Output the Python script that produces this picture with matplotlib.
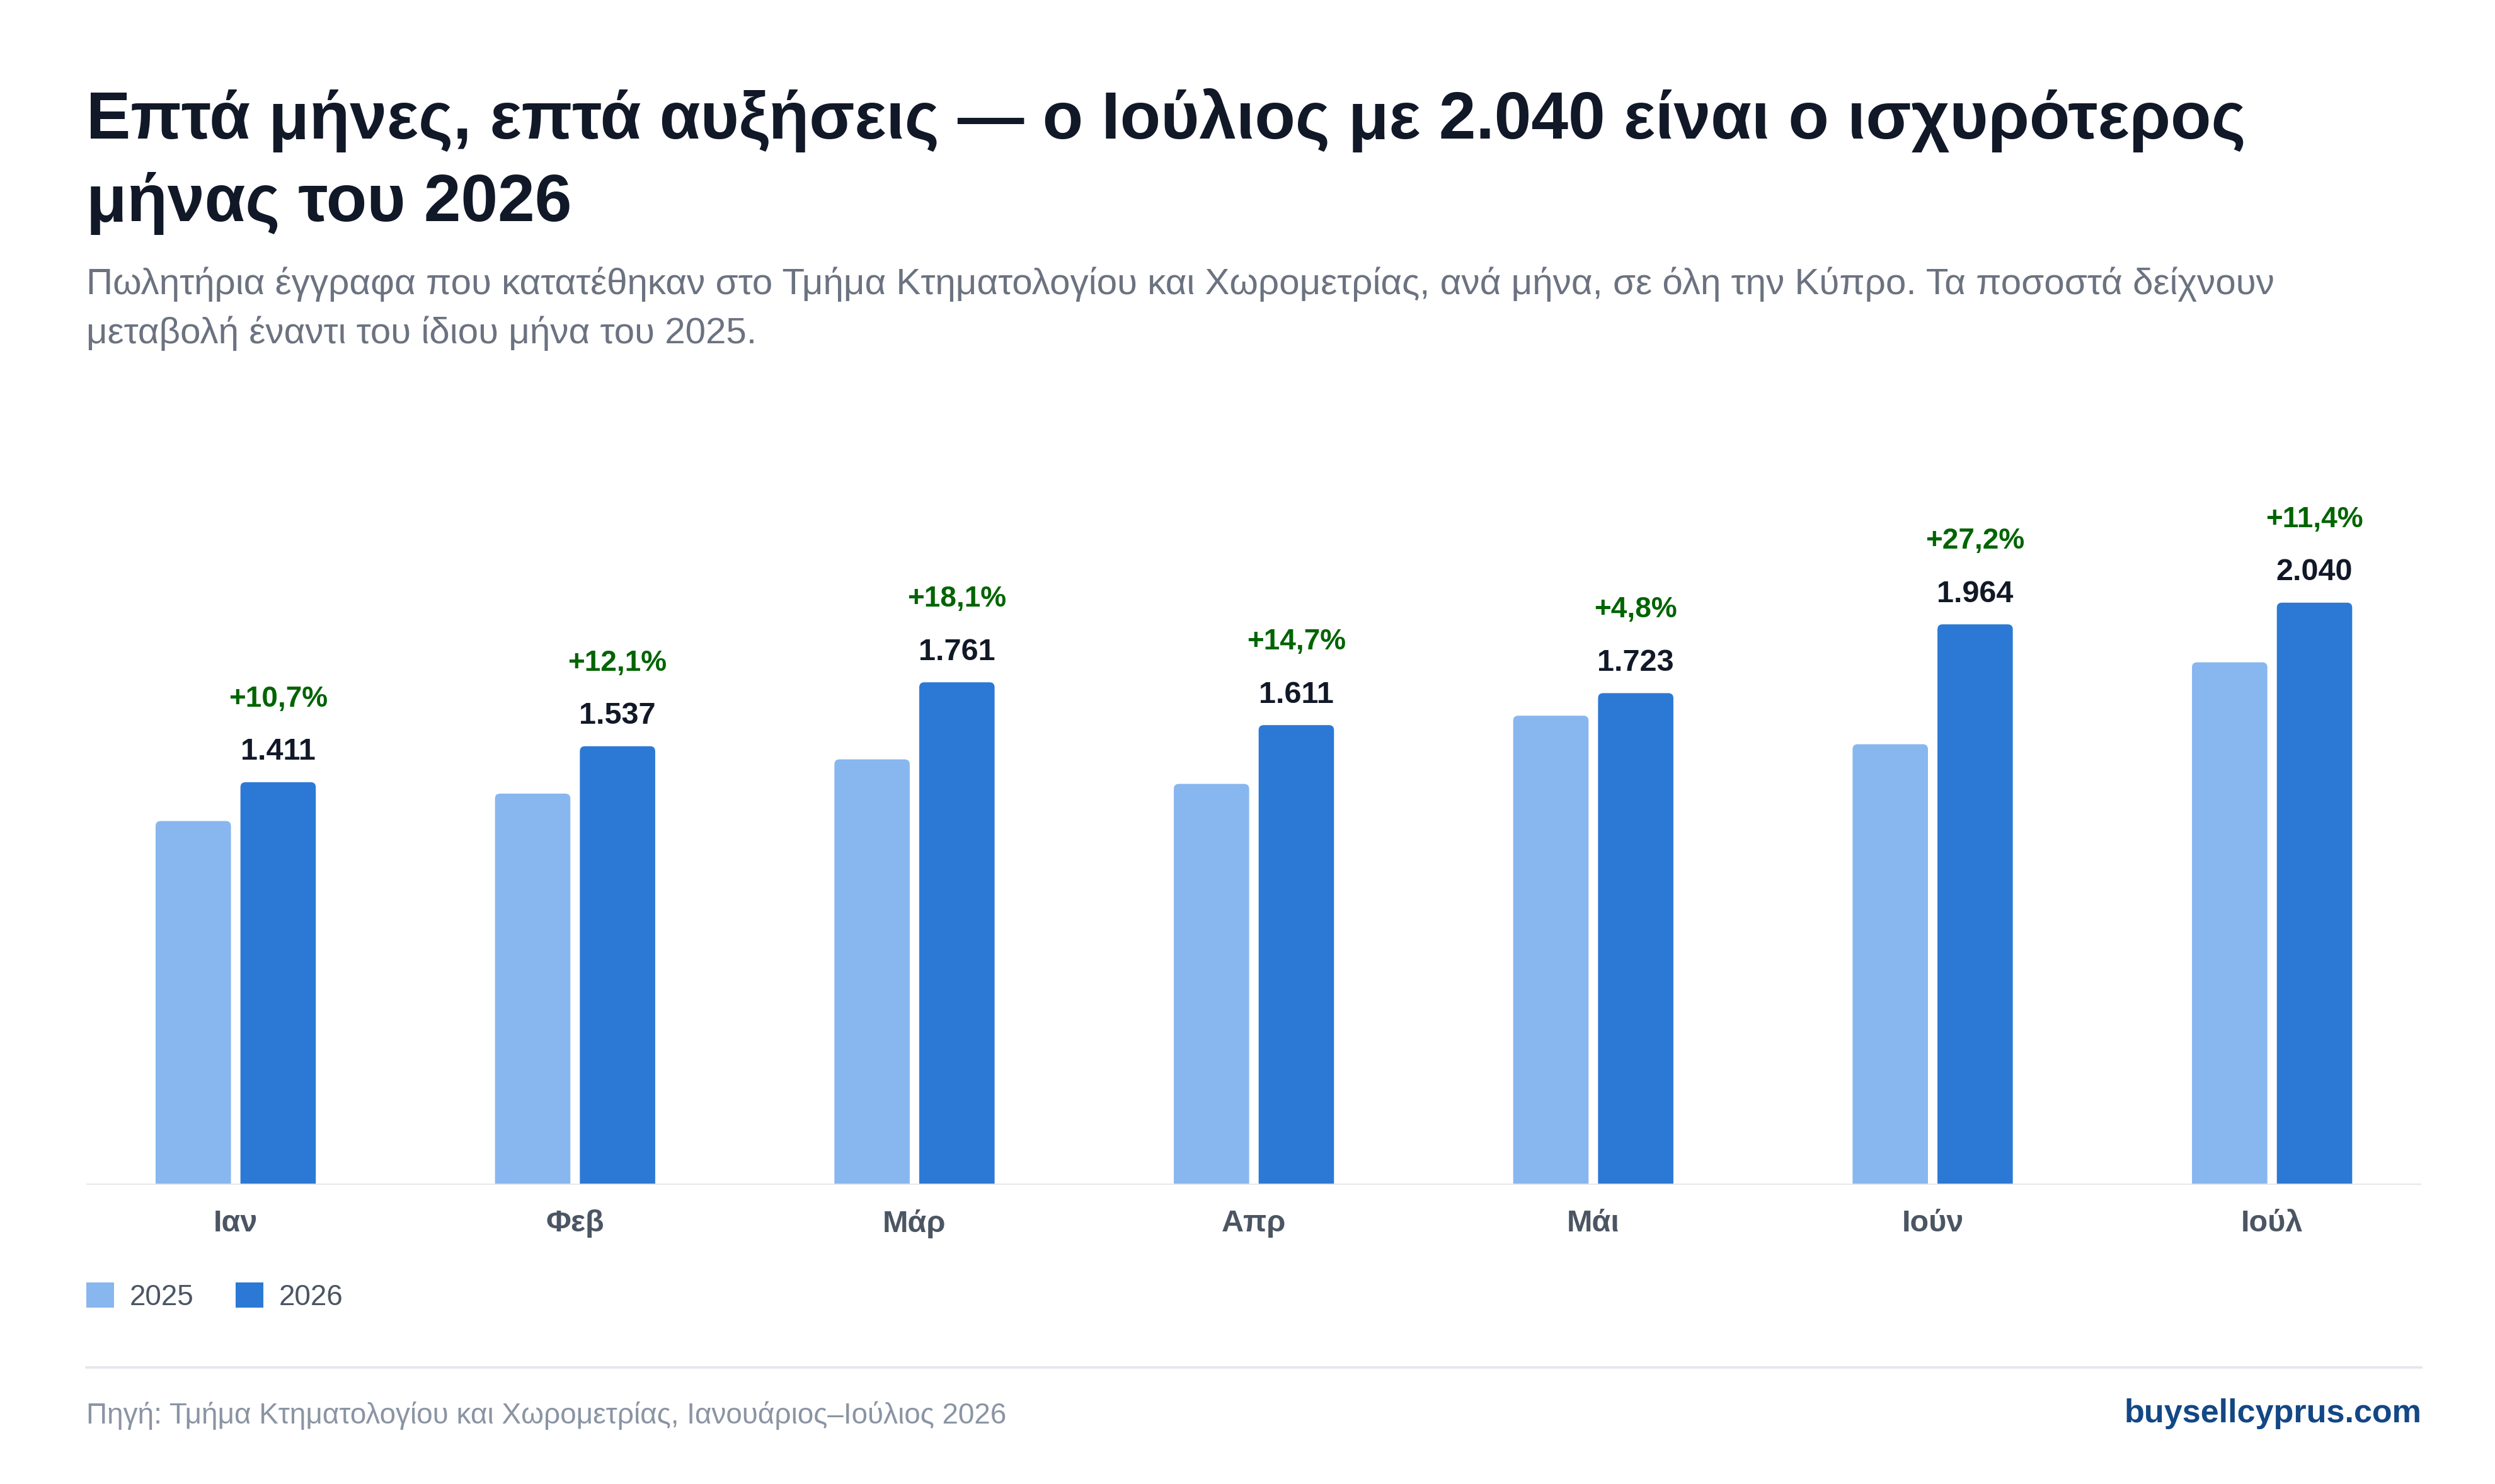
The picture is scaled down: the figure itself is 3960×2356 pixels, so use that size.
import matplotlib
matplotlib.use("Agg")
import matplotlib.pyplot as plt
from matplotlib.lines import Line2D
from matplotlib.patches import FancyBboxPatch, Patch
import numpy as np

months = ["Ιαν", "Φεβ", "Μάρ", "Απρ", "Μάι", "Ιούν", "Ιούλ"]
sales_2025 = [1275, 1371, 1491, 1405, 1644, 1544, 1831]
sales_2026 = [1411, 1537, 1761, 1611, 1723, 1964, 2040]
value_labels = ["1.411", "1.537", "1.761", "1.611", "1.723", "1.964", "2.040"]
change_labels = ["+10,7%", "+12,1%", "+18,1%", "+14,7%", "+4,8%", "+27,2%", "+11,4%"]

title = "Επτά μήνες, επτά αυξήσεις — ο Ιούλιος με 2.040 είναι ο ισχυρότερος\nμήνας του 2026"
subtitle = ("Πωλητήρια έγγραφα που κατατέθηκαν στο Τμήμα Κτηματολογίου και Χωρομετρίας, ανά μήνα, "
            "σε όλη την Κύπρο. Τα ποσοστά δείχνουν\nμεταβολή έναντι του ίδιου μήνα του 2025.")
source = "Πηγή: Τμήμα Κτηματολογίου και Χωρομετρίας, Ιανουάριος–Ιούλιος 2026"
brand = "buysellcyprus.com"

LIGHT = "#88b6ef"
DARK = "#2b79d5"
GREEN = "#006400"
INK = "#111827"
GREY = "#4b5563"
RULE = "#e5e7eb"

plt.rcParams["font.family"] = ["Liberation Sans", "DejaVu Sans"]

W, H = 1560.0, 928.0  # layout measured on a 1560 px wide view


def fx(x):
    return x / W


def fy(y):
    return 1 - y / H


fig = plt.figure(figsize=(39.6, 23.56), dpi=100)
fig.patch.set_facecolor("white")

ax = fig.add_axes([fx(54), fy(741), fx(1514) - fx(54), fy(280) - fy(741)])
x = np.arange(len(months))
bw = 0.222
off = 0.125
xlim = (-0.44, 6.44)
ylim = (0, (741 - 280) / 0.1785)
ax.set_xlim(*xlim)
ax.set_ylim(*ylim)

b25 = ax.bar(x - off, sales_2025, bw, color=LIGHT, zorder=2)
b26 = ax.bar(x + off, sales_2026, bw, color=DARK, zorder=2)

# round the top corners: swap each bar for a rounded box that dips below 0
bbox = ax.get_position()
px_w = bbox.width * 3960 / (xlim[1] - xlim[0])
px_h = bbox.height * 2356 / (ylim[1] - ylim[0])
aspect = px_w / px_h
r = 8 / px_w
dip = 10 / px_h
for bars in (b25, b26):
    for rect in bars:
        rect.set_visible(False)
        ax.add_patch(FancyBboxPatch(
            (rect.get_x(), -dip), rect.get_width(), rect.get_height() + dip,
            boxstyle=f"round,pad=0,rounding_size={r}", mutation_aspect=aspect,
            facecolor=rect.get_facecolor(), edgecolor="none", zorder=2,
            clip_on=True))

ax.axhline(0, color=RULE, lw=2.7, zorder=3)

for i in range(len(months)):
    ax.annotate(value_labels[i], (x[i] + off, sales_2026[i]), xytext=(0, 48),
                textcoords="offset pixels", ha="center", va="center",
                fontsize=35, fontweight="bold", color=INK)
    ax.annotate(change_labels[i], (x[i] + off, sales_2026[i]), xytext=(0, 132),
                textcoords="offset pixels", ha="center", va="center",
                fontsize=33, fontweight="bold", color=GREEN)

ax.set_xticks(x)
ax.set_xticklabels(months, fontsize=35, fontweight="bold", color=GREY)
ax.tick_params(axis="x", length=0, pad=28)
ax.set_yticks([])
for s in ax.spines.values():
    s.set_visible(False)

fig.text(fx(54), fy(55), title, ha="left", va="top", fontsize=76,
         fontweight="bold", color=INK, linespacing=1.4)
fig.text(fx(54), fy(167), subtitle, ha="left", va="top", fontsize=42,
         color="#6b7280", linespacing=1.5)

handles = [Patch(facecolor=LIGHT, edgecolor="none"),
           Patch(facecolor=DARK, edgecolor="none")]
fig.legend(handles, ["2025", "2026"], loc="center left",
           bbox_to_anchor=(fx(54), fy(811)), frameon=False, ncol=2,
           fontsize=33, handlelength=0.95, handleheight=0.95,
           handletextpad=0.55, columnspacing=1.45, borderpad=0,
           borderaxespad=0, labelcolor=GREY)

fig.add_artist(Line2D([fx(54), fx(1514)], [fy(855), fy(855)], color=RULE, lw=2.7))
fig.text(fx(54), fy(885), source, ha="left", va="center", fontsize=33, color="#8a94a3")
fig.text(fx(1514), fy(884), brand, ha="right", va="center", fontsize=37.5,
         fontweight="bold", color="#134785")

fig.savefig("out.png", dpi=100, facecolor="white")
